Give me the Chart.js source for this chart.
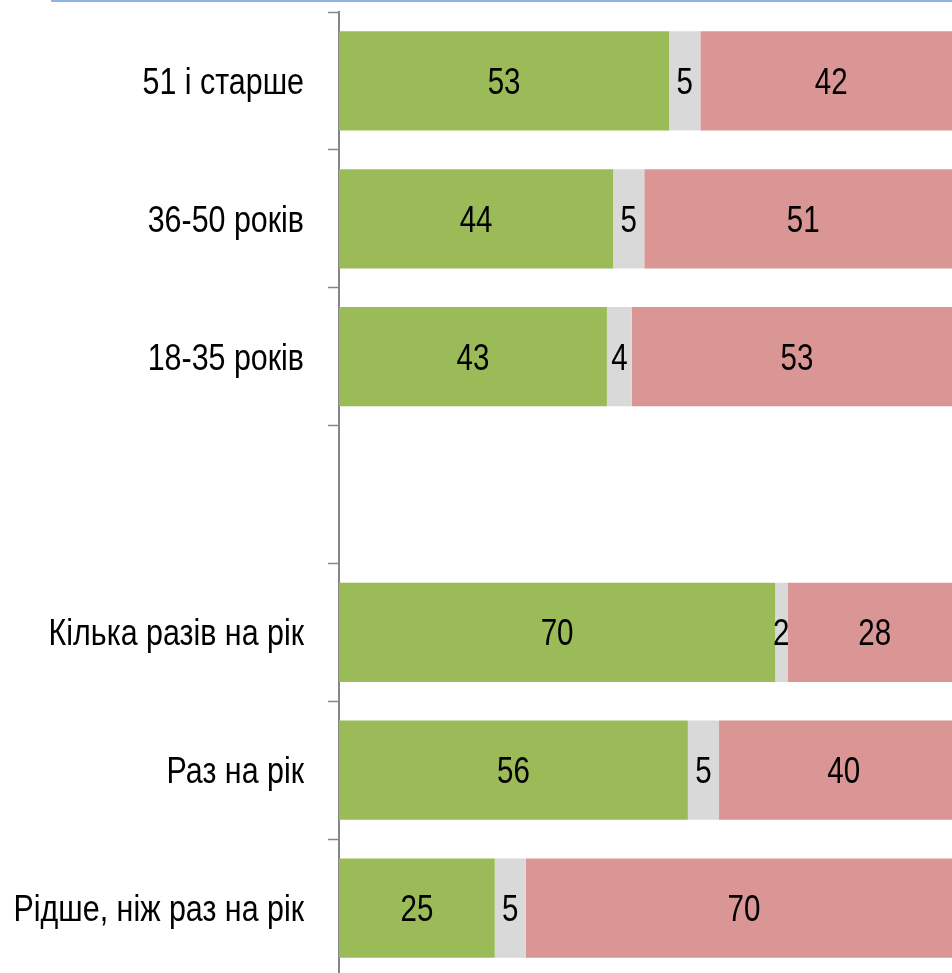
<!DOCTYPE html>
<html>
<head>
<meta charset="utf-8">
<script src="https://cdn.jsdelivr.net/npm/chart.js@4/dist/chart.umd.min.js"></script>
<style>
    html, body {
        margin: 0;
        padding: 0;
        background: #ffffff;
        overflow: hidden;
    }
    #wrap {
        position: relative;
        width: 962px;
        height: 980px;
    }
</style>
</head>
<body>
<div id="wrap">
    <canvas id="stackChart"></canvas>
</div>
<script>
const categories = [
    "51 і старше",
    "36-50 років",
    "18-35 років",
    "",
    "Кілька разів на рік",
    "Раз на рік",
    "Рідше, ніж раз на рік"
];

const greenValues = [53, 44, 43, null, 70, 56, 25];
const greyValues  = [5, 5, 4, null, 2, 5, 5];
const pinkValues  = [42, 51, 53, null, 28, 40, 70];

// Arial Narrow look: Liberation Sans squeezed horizontally
const FONT = "36px 'Liberation Sans', Arial, sans-serif";

function narrowText(ctx, text, x, y, align, squeeze) {
    ctx.save();
    ctx.translate(x, y);
    ctx.scale(squeeze, 1);
    ctx.textAlign = align;
    ctx.fillText(text, 0, 0);
    ctx.restore();
}

const valueLabels = {
    id: "valueLabels",
    afterDatasetsDraw(chart) {
        const ctx = chart.ctx;
        ctx.save();
        ctx.font = FONT;
        ctx.fillStyle = "#000000";
        ctx.textBaseline = "alphabetic";
        chart.data.datasets.forEach((ds, i) => {
            const meta = chart.getDatasetMeta(i);
            meta.data.forEach((bar, j) => {
                const v = ds.data[j];
                if (v === null || v === undefined) return;
                const cx = (bar.x + bar.base) / 2;
                narrowText(ctx, String(v), cx, bar.y + 13, "center", 0.82);
            });
        });
        ctx.restore();
    }
};

const categoryLabels = {
    id: "categoryLabels",
    afterDraw(chart) {
        const ctx = chart.ctx;
        const y = chart.scales.y;
        ctx.save();
        ctx.font = FONT;
        ctx.fillStyle = "#000000";
        ctx.textBaseline = "alphabetic";
        categories.forEach((c, i) => {
            if (!c) return;
            narrowText(ctx, c, y.right - 35, y.getPixelForTick(i) + 13, "right", 0.845);
        });
        ctx.restore();
    }
};

const topRule = {
    id: "topRule",
    beforeDraw(chart) {
        const ctx = chart.ctx;
        ctx.save();
        ctx.fillStyle = "#8DB4E2";
        ctx.fillRect(51, 0, chart.width - 51, 2);
        ctx.restore();
    }
};

function createStackChart() {

    const ctx = document.getElementById("stackChart");

    if (!ctx) return;

    new Chart(ctx, {
        type: "bar",
        data: {
            labels: categories,
            datasets: [
                {
                    label: "green",
                    data: greenValues,
                    backgroundColor: "#9BBB59"
                },
                {
                    label: "grey",
                    data: greyValues,
                    backgroundColor: "#D9D9D9"
                },
                {
                    label: "pink",
                    data: pinkValues,
                    backgroundColor: "#D99694"
                }
            ]
        },
        options: {
            indexAxis: "y",
            responsive: true,
            maintainAspectRatio: false,
            animation: false,
            layout: {
                padding: { top: 12, bottom: 3, left: 0, right: 0 }
            },
            datasets: {
                bar: {
                    categoryPercentage: 1,
                    barPercentage: 0.72,
                    borderWidth: 0,
                    clip: false
                }
            },
            plugins: {
                legend: { display: false },
                tooltip: { enabled: false }
            },
            scales: {
                x: {
                    stacked: true,
                    display: false,
                    min: 0,
                    max: 100
                },
                y: {
                    stacked: true,
                    afterFit: s => {
                        s.width = 339;
                        s.paddingTop = 0;
                        s.paddingBottom = 0;
                    },
                    border: {
                        display: true,
                        color: "#868686",
                        width: 2
                    },
                    grid: {
                        offset: true,
                        drawOnChartArea: false,
                        drawTicks: true,
                        tickLength: 11,
                        tickWidth: 1.5,
                        tickColor: "#868686"
                    },
                    ticks: {
                        display: false
                    }
                }
            }
        },
        plugins: [topRule, valueLabels, categoryLabels]
    });

}

createStackChart();
</script>
</body>
</html>
